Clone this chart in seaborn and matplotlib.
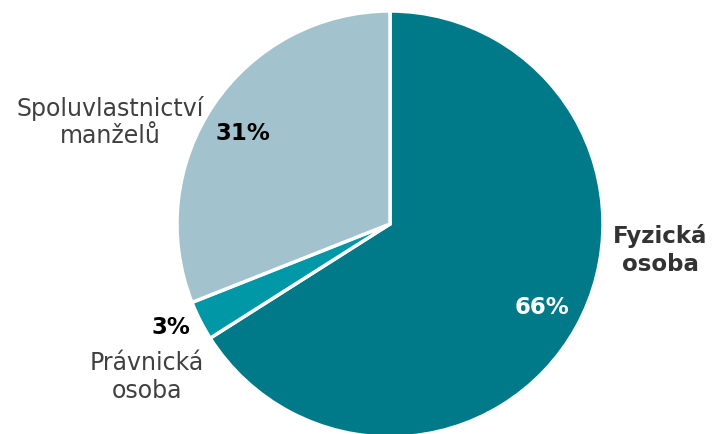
import matplotlib
matplotlib.use("Agg")
import matplotlib.pyplot as plt
import seaborn as sns

sns.set_theme(style="white")
plt.rcParams['font.family'] = ['DejaVu Sans']

categories = ["Fyzická osoba", "Právnická osoba", "Spoluvlastnictví manželů"]
shares = [66, 3, 31]
colors = ["#007A88", "#0097A6", "#A2C3CD"]

W, H = 713, 434
fig = plt.figure(figsize=(W / 100, H / 100), dpi=100)
ax = fig.add_axes([0, 0, 1, 1])

cx, cy, r = 390, H - 224, 213
ax.pie(shares, colors=colors, startangle=90, counterclock=False,
       center=(cx, cy), radius=r, frame=True,
       wedgeprops=dict(edgecolor="white", linewidth=2.5))
ax.set_xlim(0, W)
ax.set_ylim(0, H)
ax.set_aspect("equal")
ax.axis("off")

lab = "#404040"
fs_name = 17
fs_bold = 16.5
ax.text(660, H - 250, "Fyzická\nosoba", ha="center", va="center",
        fontsize=fs_bold, fontweight="bold", color="#333333", linespacing=1.3)
ax.text(542, H - 307, f"{shares[0]}%", ha="center", va="center",
        fontsize=fs_bold, fontweight="bold", color="white")
ax.text(243, H - 133, f"{shares[2]}%", ha="center", va="center",
        fontsize=fs_bold, fontweight="bold", color="black")
ax.text(110, H - 122, "Spoluvlastnictví\nmanželů", ha="center", va="center",
        fontsize=fs_name, color=lab, linespacing=1.2)
ax.text(171, H - 327, f"{shares[1]}%", ha="center", va="center",
        fontsize=fs_bold, fontweight="bold", color="black")
ax.text(147, H - 377, "Právnická\nosoba", ha="center", va="center",
        fontsize=fs_name, color=lab, linespacing=1.2)

fig.savefig("out.png", dpi=100, facecolor="white")
